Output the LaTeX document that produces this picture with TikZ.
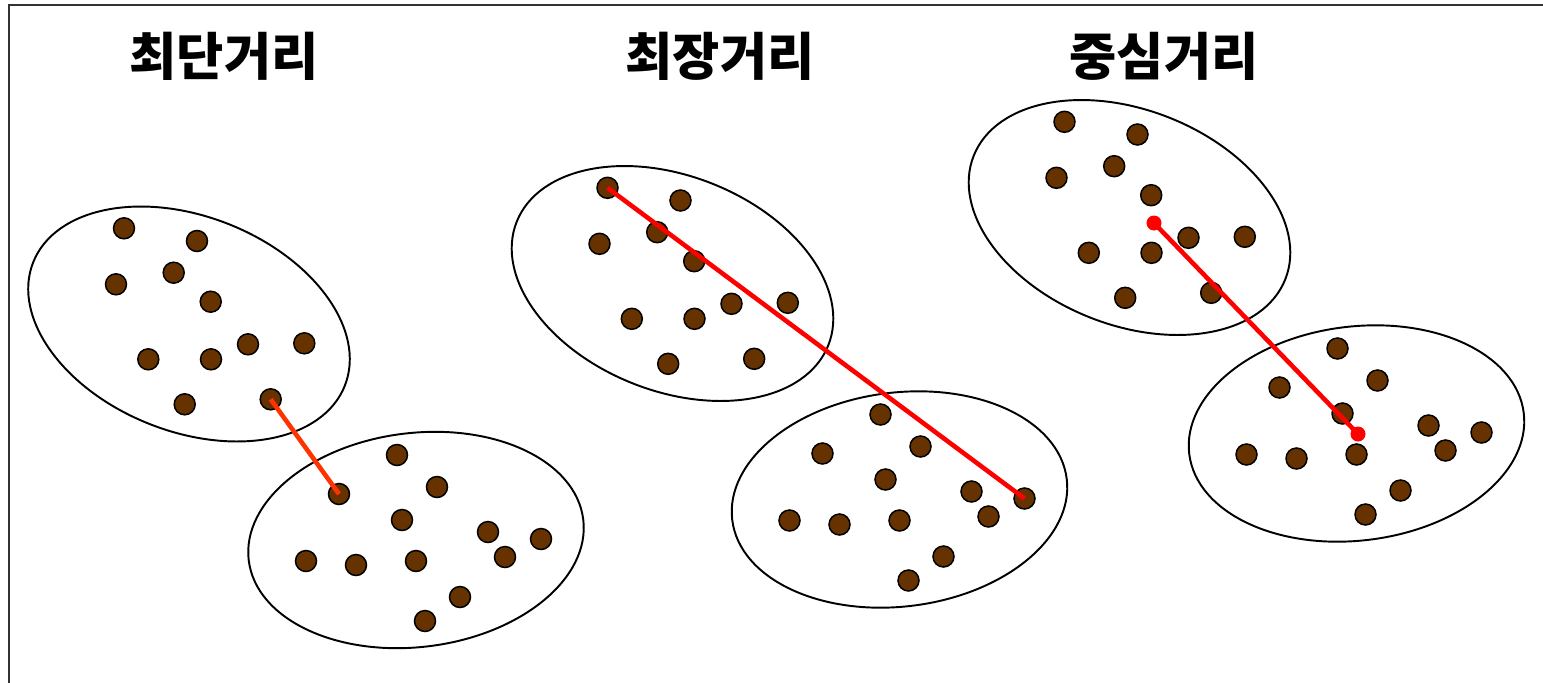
\documentclass[tikz,border=0pt]{standalone}
\usepackage{fontspec}
\newfontfamily\kr{Noto Sans CJK KR}
\definecolor{dotbrown}{RGB}{102,51,0}
\definecolor{linered}{RGB}{255,0,0}
\definecolor{lineorange}{RGB}{255,51,0}
\definecolor{framegray}{RGB}{50,50,50}
\begin{document}
\begin{tikzpicture}[x=0.02cm,y=-0.02cm,
  dot/.style={circle,draw=black,fill=dotbrown,line width=0.85pt,inner sep=0pt,minimum size=0.42cm},
  rim/.style={draw=black,line width=1.1pt},
  link/.style={line width=2.6pt},
  title/.style={font=\kr\bfseries\fontsize{29.2}{32}\selectfont,anchor=base,inner sep=0pt},
  reddot/.style={circle,fill=linered,inner sep=0pt,minimum size=0.3cm}]
\useasboundingbox (0,0) rectangle (1543,683);
\draw[line width=1.3pt, framegray] (9,683) -- (9,5) -- (1543,5);
\node[title] (t1) at (224,75) {최단거리};
\node[title] (t2) at (720,75) {최장거리};
\node[title] (t3) at (1164,75) {중심거리};
\foreach \dx/\dy/\p in {0/0/p1,483.5/-40.5/p2,940.5/-106.5/p3}{
  \begin{scope}[shift={(\dx,\dy)}, name prefix=\p-]
    \draw[rim, rotate around={-21.6:(189,324)}] (189,324) ellipse [x radius=167.6, y radius=107.5];
    \draw[rim, rotate around={7:(416,540)}] (416,540) ellipse [x radius=168.5, y radius=107];
    \node[dot] (a1) at (124,228.3) {};
    \node[dot] (a2) at (197,241) {};
    \node[dot] (a3) at (116,284.3) {};
    \node[dot] (a4) at (173.7,272.7) {};
    \node[dot] (a5) at (210.7,301.7) {};
    \node[dot] (a6) at (148.3,359.3) {};
    \node[dot] (a7) at (211,359.3) {};
    \node[dot] (a8) at (248,344.3) {};
    \node[dot] (a9) at (304.3,343.3) {};
    \node[dot] (a10) at (184.7,404.3) {};
    \node[dot] (a11) at (270.7,399.3) {};
    \node[dot] (b1) at (397,455) {};
    \node[dot] (b2) at (437,487) {};
    \node[dot] (b3) at (339,494) {};
    \node[dot] (b4) at (402,520) {};
    \node[dot] (b5) at (488,532) {};
    \node[dot] (b6) at (505,557) {};
    \node[dot] (b7) at (541,539) {};
    \node[dot] (b8) at (306,561) {};
    \node[dot] (b9) at (356,565) {};
    \node[dot] (b10) at (416,561) {};
    \node[dot] (b11) at (460,597) {};
    \node[dot] (b12) at (425,621) {};
  \end{scope}
}
\draw[link, lineorange] (p1-a11.center) -- (p1-b3.center);
\draw[link, linered] (p2-a1.center) -- (p2-b7.center);
\node[reddot] (c1) at (1154,223) {};
\node[reddot] (c2) at (1358,434) {};
\draw[link, linered] (c1.center) -- (c2.center);
\end{tikzpicture}
\end{document}
